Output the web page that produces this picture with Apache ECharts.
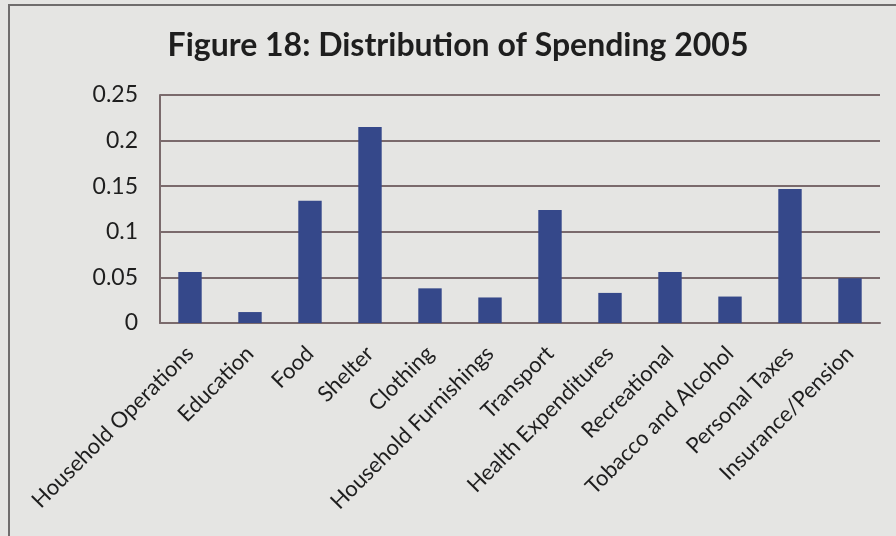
<!DOCTYPE html>
<html>
<head>
<meta charset="utf-8">
<script src="https://cdn.jsdelivr.net/npm/echarts@6/dist/echarts.min.js"></script>
<style>
  html, body { margin: 0; padding: 0; background: #e5e5e3; }
  #chart { width: 896px; height: 536px; }
</style>
</head>
<body>
<div id="chart"></div>
<script>
// Share of household spending by category, 2005
const categories = [
  'Household Operations', 'Education', 'Food', 'Shelter', 'Clothing',
  'Household Furnishings', 'Transport', 'Health Expenditures', 'Recreational',
  'Tobacco and Alcohol', 'Personal Taxes', 'Insurance/Pension'
];
const shares = [0.056, 0.012, 0.134, 0.215, 0.038, 0.028, 0.124, 0.033, 0.056, 0.029, 0.147, 0.049];
const yTicks = { min: 0, max: 0.25, step: 0.05 };

const chart = echarts.init(document.getElementById('chart'), null, { renderer: 'canvas' });

chart.setOption({
  backgroundColor: '#e5e5e3',
  animation: false,
  title: {
    text: 'Figure 18: Distribution of Spending 2005',
    left: 453,
    top: 25,
    textAlign: 'center',
    textStyle: { fontFamily: 'Lato', fontWeight: 'bold', fontSize: 32, color: '#1e1e1e' }
  },
  graphic: [{
    type: 'polyline',
    shape: { points: [[9, 540], [9, 5], [900, 5]] },
    style: { stroke: '#6f6d6d', lineWidth: 2, fill: null },
    silent: true
  }],
  grid: { left: 160, right: 16, top: 95, bottom: 213 },
  xAxis: {
    type: 'category',
    data: categories,
    axisLine: { show: true, lineStyle: { color: '#7a6a6c', width: 2 } },
    axisTick: { show: false },
    axisLabel: {
      rotate: 45,
      interval: 0,
      margin: 27,
      fontFamily: 'Lato',
      fontSize: 22,
      color: '#1e1e1e'
    }
  },
  yAxis: {
    type: 'value',
    min: yTicks.min,
    max: yTicks.max,
    interval: yTicks.step,
    axisLine: { show: true, lineStyle: { color: '#7a6a6c', width: 2 } },
    axisTick: { show: false },
    splitLine: { show: true, lineStyle: { color: '#7a6a6c', width: 2 } },
    axisLabel: {
      margin: 22,
      fontFamily: 'Lato',
      fontSize: 23,
      color: '#1e1e1e'
    }
  },
  series: [{
    type: 'bar',
    data: shares,
    barWidth: '39%',
    itemStyle: { color: '#35488a' }
  }]
});
</script>
</body>
</html>
